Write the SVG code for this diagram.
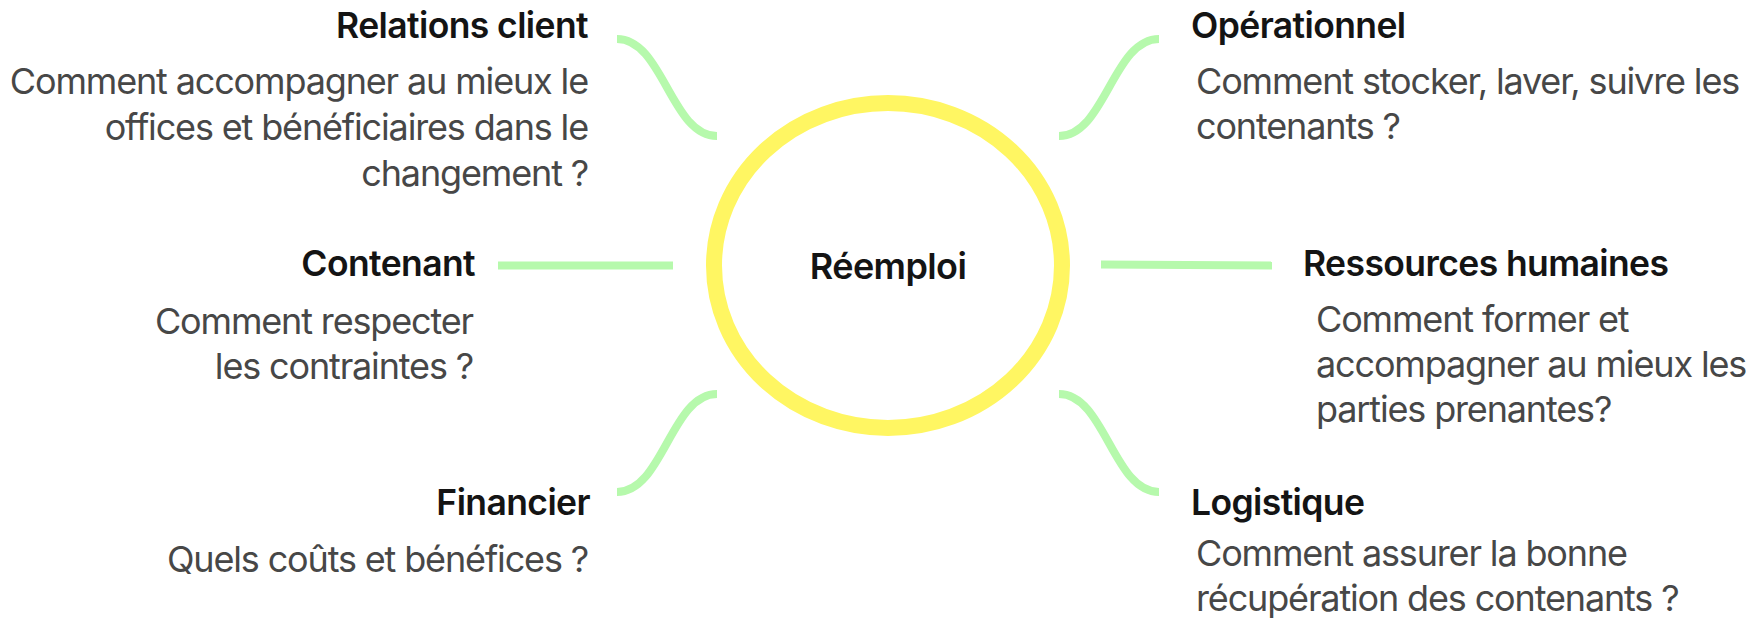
<svg xmlns="http://www.w3.org/2000/svg" width="1746" height="619" viewBox="0 0 1746 619">
<style>
.t{font-family:Inter,"Noto Sans","Liberation Sans",sans-serif;font-weight:600;font-size:35.5px;fill:#141414;letter-spacing:-0.6px}
.b{font-family:Inter,"Noto Sans","Liberation Sans",sans-serif;font-weight:400;font-size:36px;fill:#474747;letter-spacing:-1.15px}
.e{text-anchor:end}
.c{fill:none;stroke:#B6F9AC;stroke-width:8}
</style>
<rect width="1746" height="619" fill="#ffffff"/>
<g id="connectors">
<path class="c" d="M617,39 C663,39 671,136 717,136"/>
<path class="c" d="M1159,39 C1113,39 1105,136 1059,136"/>
<path class="c" d="M498,265.5 L673,265.5"/>
<path class="c" d="M1101,264.5 L1272,265.5"/>
<path class="c" d="M717,394 C671,394 663,492 617,492"/>
<path class="c" d="M1059,394 C1105,394 1113,492 1159,492"/>
</g>
<g id="center">
<ellipse cx="888" cy="265.5" rx="174" ry="162.5" fill="none" stroke="#FFF662" stroke-width="16"/>
<text x="888" y="279" text-anchor="middle" style="font-family:Inter,'Noto Sans','Liberation Sans',sans-serif;font-weight:600;font-size:36px;fill:#141414;letter-spacing:-0.6px">Réemploi</text>
</g>
<g id="relations-client">
<text class="t e" x="588" y="38">Relations client</text>
<text class="b e" x="588" y="94">Comment accompagner au mieux le</text>
<text class="b e" x="588" y="140">offices et bénéficiaires dans le</text>
<text class="b e" x="588" y="186">changement ?</text>
</g>
<g id="contenant">
<text class="t e" x="475" y="276">Contenant</text>
<text class="b e" x="473" y="334">Comment respecter</text>
<text class="b e" x="473" y="379">les contraintes ?</text>
</g>
<g id="financier">
<text class="t e" x="590" y="515">Financier</text>
<text class="b e" x="588" y="572">Quels coûts et bénéfices ?</text>
</g>
<g id="operationnel">
<text class="t" x="1191" y="38">Opérationnel</text>
<text class="b" x="1196" y="94">Comment stocker, laver, suivre les</text>
<text class="b" x="1196" y="139">contenants ?</text>
</g>
<g id="ressources-humaines">
<text class="t" x="1303" y="276">Ressources humaines</text>
<text class="b" x="1316" y="332">Comment former et</text>
<text class="b" x="1316" y="377">accompagner au mieux les</text>
<text class="b" x="1316" y="422">parties prenantes?</text>
</g>
<g id="logistique">
<text class="t" x="1191" y="515">Logistique</text>
<text class="b" x="1196" y="566">Comment assurer la bonne</text>
<text class="b" x="1196" y="611">récupération des contenants ?</text>
</g>
</svg>
